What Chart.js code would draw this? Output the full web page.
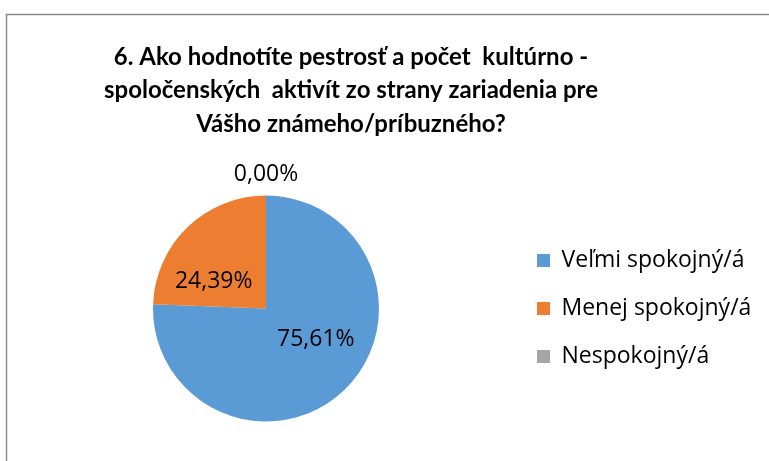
<!DOCTYPE html>
<html>
<head>
<meta charset="utf-8">
<script src="https://cdn.jsdelivr.net/npm/chart.js@4.4.0/dist/chart.umd.min.js"></script>
<style>
  html, body { margin: 0; padding: 0; background: #fff; }
  #wrap { position: relative; width: 769px; height: 461px; }
</style>
</head>
<body>
<div id="wrap"><canvas id="pieChart"></canvas></div>
<script>
// data
let categories = ['Veľmi spokojný/á', 'Menej spokojný/á', 'Nespokojný/á'];
let percentages = [75.61, 24.39, 0.00];
let sliceColors = ['#5B9BD5', '#ED7D31', '#A5A5A5'];
let titleLines = [
    '6. Ako hodnotíte pestrosť a počet  kultúrno -',
    'spoločenských  aktivít zo strany zariadenia pre',
    'Vášho známeho/príbuzného?'
];

const titleFont = 'bold 24px Lato, sans-serif';
const textFamily = '"Open Sans", sans-serif';
const legendSize = 23;
const legendBox = 13;
const legendPad = 25;
const legendBoxX = 537;

// legend has to start at the same place as in the original, so size the right padding from the text width
let measureCtx = document.createElement('canvas').getContext('2d');
measureCtx.font = legendSize + 'px ' + textFamily;
let widestLabel = Math.max.apply(null, categories.map(function(c) { return measureCtx.measureText(c).width; }));
let legendItemW = legendBox + legendSize / 2 + widestLabel;
let legendLeft = legendBoxX - legendPad;
let padRight = Math.max(0, 769 - legendLeft - (legendPad + legendItemW + 10));
let padLeft = 2 * 266 - legendLeft;

// gray frame like the spreadsheet chart box
const framePlugin = {
    id: 'frame',
    beforeDraw(chart) {
        const ctx = chart.ctx;
        ctx.save();
        ctx.strokeStyle = '#8a8a8a';
        ctx.lineWidth = 1.5;
        ctx.strokeRect(6.5, 14.5, 2000, 2000);
        ctx.restore();
    }
};

// title sits a bit left of the canvas centre, so it is drawn here
const titlePlugin = {
    id: 'leftTitle',
    afterDraw(chart, args, opts) {
        const ctx = chart.ctx;
        ctx.save();
        ctx.font = titleFont;
        ctx.fillStyle = '#000';
        ctx.textAlign = 'center';
        ctx.textBaseline = 'alphabetic';
        opts.lines.forEach(function(line, i) {
            ctx.fillText(line, opts.x, opts.y + i * opts.lineHeight);
        });
        ctx.restore();
    }
};

// percentage labels on the slices
const sliceLabels = {
    id: 'sliceLabels',
    afterDatasetsDraw(chart, args, opts) {
        const ctx = chart.ctx;
        const meta = chart.getDatasetMeta(0);
        const values = chart.data.datasets[0].data;
        ctx.save();
        ctx.font = opts.size + 'px ' + textFamily;
        ctx.fillStyle = '#000';
        ctx.textAlign = 'center';
        ctx.textBaseline = 'middle';
        meta.data.forEach(function(arc, i) {
            const p = arc.getProps(['x', 'y', 'startAngle', 'endAngle', 'outerRadius'], true);
            const mid = (p.startAngle + p.endAngle) / 2 + (opts.angleShift[i] || 0) * Math.PI / 180;
            const dist = values[i] === 0 ? p.outerRadius + 21 : p.outerRadius * 0.52;
            const txt = values[i].toFixed(2).replace('.', ',') + '%';
            ctx.fillText(txt, p.x + Math.cos(mid) * dist, p.y + Math.sin(mid) * dist);
        });
        ctx.restore();
    }
};

let ctx = document.getElementById('pieChart').getContext('2d');
new Chart(ctx, {
    type: 'pie',
    data: {
        labels: categories,
        datasets: [{
            data: percentages,
            backgroundColor: sliceColors,
            borderWidth: 0
        }]
    },
    options: {
        responsive: true,
        maintainAspectRatio: false,
        animation: false,
        layout: { padding: { left: padLeft, right: padRight, top: 195.5, bottom: 39.5 } },
        plugins: {
            title: { display: false },
            leftTitle: { lines: titleLines, x: 351, y: 64.5, lineHeight: 33.5 },
            legend: {
                position: 'right',
                align: 'center',
                labels: {
                    boxWidth: legendBox,
                    boxHeight: legendBox,
                    padding: legendPad,
                    color: '#000',
                    font: { family: textFamily, size: legendSize }
                }
            },
            tooltip: { enabled: false },
            sliceLabels: { size: 23, angleShift: [-14, -19, 0] }
        }
    },
    plugins: [framePlugin, titlePlugin, sliceLabels]
});
</script>
</body>
</html>
